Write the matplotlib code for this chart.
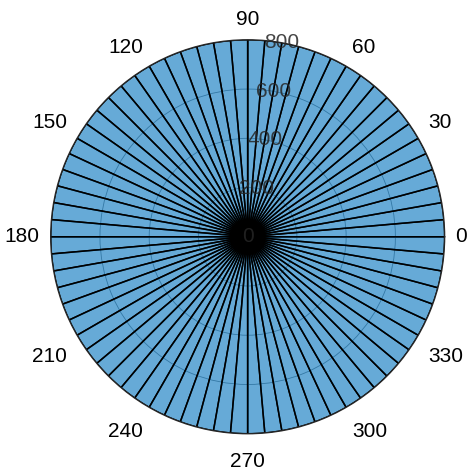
import numpy as np
import matplotlib.pyplot as plt

# 72 bins of 5 degrees, every bin reaches the outer ring
bin_edges_deg = np.arange(0, 361, 5)
counts = [800] * 72
r_ticks = [0, 200, 400, 600, 800]
theta_ticks = [0, 30, 60, 90, 120, 150, 180, 210, 240, 270, 300, 330]

plt.rcParams['font.family'] = ['Liberation Sans', 'DejaVu Sans']

fig = plt.figure(figsize=(4.74, 4.74), dpi=100)
ax = fig.add_axes([0.107, 0.085, 0.831, 0.831], projection='polar')

edges = np.deg2rad(bin_edges_deg)
widths = np.diff(edges)
ax.bar(edges[:-1], counts, width=widths, align='edge',
       color=(0.0, 0.447, 0.741, 0.6), edgecolor='black', linewidth=1.1, zorder=2)

ax.set_ylim(0, 800)
ax.set_yticks(r_ticks)
ax.set_yticklabels([])
# radial labels sit centred on the 80 degree spoke
for r in r_ticks:
    ax.text(np.deg2rad(80), r, str(r), ha='center', va='center',
            fontsize=15, color='#262626', alpha=0.85, zorder=6)

# angle labels placed by hand just outside the rim
# pixel gaps depend on how far the label is from the horizontal
gap_x = {0: 11, 30: 10, 60: 6, 90: 0}
gap_up = {0: 0, 30: 6, 60: 9, 90: 11}
gap_down = {0: 0, 30: -12, 60: -15, 90: -18}

ax.set_thetagrids(theta_ticks, [''] * len(theta_ticks))
for t in theta_ticks:
    c, s = np.cos(np.deg2rad(t)), np.sin(np.deg2rad(t))
    fold = int(round(np.degrees(np.arcsin(min(abs(s), 1.0)))))
    if abs(c) < 0.01:
        ha, dx = 'center', 0
    elif c > 0:
        ha, dx = 'left', gap_x[fold]
    else:
        ha, dx = 'right', -gap_x[fold]
    if abs(s) < 0.01:
        va, dy = 'center', 0
    elif s > 0:
        va, dy = 'bottom', gap_up[fold]
    else:
        va, dy = 'top', gap_down[fold]
    ax.annotate(str(t), xy=(np.deg2rad(t), 800), xytext=(dx, dy),
                textcoords='offset pixels', ha=ha, va=va, fontsize=15,
                annotation_clip=False)

ax.grid(True, color='#808080', linewidth=0.6)
ax.set_axisbelow(True)
ax.spines['polar'].set_color('#262626')
ax.spines['polar'].set_linewidth(1.0)

fig.savefig('out.png', dpi=100)
